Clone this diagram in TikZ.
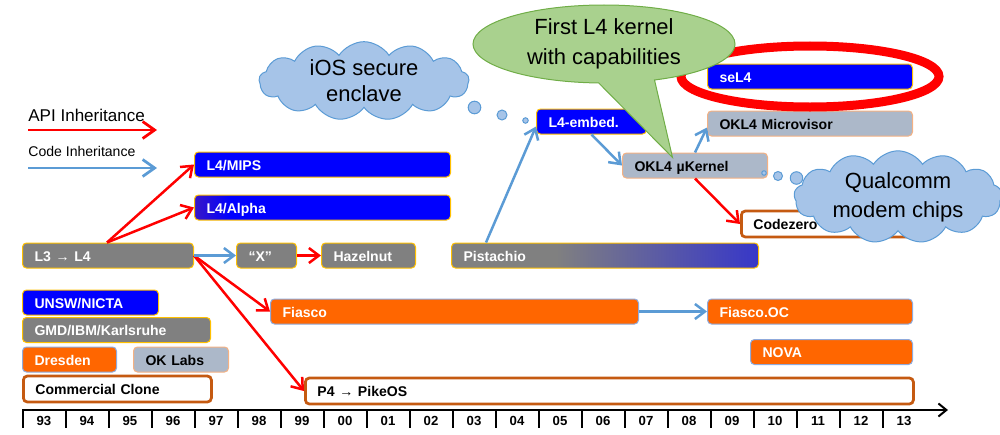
\documentclass[tikz,border=0pt]{standalone}
\usepackage{fontspec}
\setmainfont{Liberation Sans}
\usetikzlibrary{shapes.geometric,shapes.symbols,shapes.callouts,arrows.meta}

\definecolor{kblue}{RGB}{0,0,255}
\definecolor{kgray}{RGB}{128,128,128}
\definecolor{korange}{RGB}{255,102,0}
\definecolor{kslate}{RGB}{172,184,201}
\definecolor{kbrown}{RGB}{197,90,17}
\definecolor{kgold}{RGB}{255,192,0}
\definecolor{kedgeblue}{RGB}{143,170,220}
\definecolor{kedgeorange}{RGB}{244,177,131}
\definecolor{kred}{RGB}{255,0,0}
\definecolor{kcode}{RGB}{91,155,213}
\definecolor{kcloud}{RGB}{166,196,232}
\definecolor{kgreen}{RGB}{169,209,142}
\definecolor{kgreenline}{RGB}{112,173,71}

\pgfdeclarehorizontalshading{alphafade}{100bp}{color(0bp)=(korange); color(32bp)=(kblue); color(100bp)=(kblue)}
\pgfdeclarehorizontalshading{pistfade}{100bp}{color(0bp)=(kgray); color(42bp)=(kgray); color(100bp)=(kblue)}

\tikzset{
  bar/.style={rectangle, rounded corners=0.8mm, minimum height=5mm, inner xsep=2.4mm,
    inner ysep=0pt, anchor=west, text height=1.5ex, text depth=0.3ex,
    font=\fontsize{8}{9}\selectfont\bfseries, text=white, line width=0.2mm},
  barwidth/.style={minimum width=#1*0.2mm, text width=#1*0.2mm-4.8mm},
  bluebar/.style={bar, fill=kblue, draw=kgold},
  graybar/.style={bar, fill=kgray, draw=kgold},
  shadebar/.style={bar, shade, draw=kgold},
  orangebar/.style={bar, fill=korange, draw=kedgeblue},
  slatebar/.style={bar, fill=kslate, draw=kedgeorange, text=black},
  clonebar/.style={bar, fill=white, draw=kbrown, line width=0.55mm, text=black, minimum height=5.2mm},
  api/.style={draw=kred, line width=0.5mm, -{Straight Barb[length=2mm,width=3mm]}},
  code/.style={draw=kcode, line width=0.5mm, -{Straight Barb[length=2mm,width=3mm]}},
  thought/.style={cloud, cloud puffs=13, cloud puff arc=115, aspect=2.7, draw=kcode,
    fill=kcloud, line width=0.2mm, inner sep=0pt, align=center},
  bubble/.style={fill=kcloud, draw=kcode, line width=0.2mm},
  yearlbl/.style={font=\fontsize{7.5}{9}\selectfont\bfseries, inner sep=0pt},
}

\begin{document}
\begin{tikzpicture}[x=0.2mm, y=-0.2mm]
\useasboundingbox (0,0) rectangle (1000,435);

% Lineages
\node[bluebar, barwidth=256] (mips) at (194,164.5) {L4/MIPS};
\node[shadebar, shading=alphafade, barwidth=256] (alpha) at (194,207.5) {L4/Alpha};
\node[graybar, barwidth=171] (l3) at (22,255.5) {L3 → L4};
\node[graybar, barwidth=60] (quoteX) at (236,255.5) {“X”};
\node[graybar, barwidth=94] (hazel) at (321,255.5) {Hazelnut};
\node[shadebar, shading=pistfade, barwidth=307] (pist) at (451,255.5) {Pistachio};
\node[bluebar, barwidth=110] (embed) at (536,121.5) {L4-embed.};
\node[slatebar, barwidth=145] (kern) at (622,165.5) {OKL4 µKernel};
\node[bluebar, barwidth=205] (sel4) at (707,76.5) {seL4};
\node[slatebar, barwidth=205] (micro) at (707,123.5) {OKL4 Microvisor};
\node[clonebar, barwidth=172] (codezero) at (740,224) {Codezero};
\node[orangebar, barwidth=368] (fiasco) at (270,311.5) {Fiasco};
\node[orangebar, barwidth=205] (fiascooc) at (707,311.5) {Fiasco.OC};
\node[orangebar, barwidth=162] (nova) at (750,352) {NOVA};
\node[clonebar, barwidth=608] (pike) at (304,391) {P4 → PikeOS};

% Origins key
\node[bluebar, barwidth=136] (unsw) at (22,302.5) {UNSW/NICTA};
\node[graybar, barwidth=188] (gmd) at (22,330) {GMD/IBM/Karlsruhe};
\node[orangebar, barwidth=94] (dresden) at (22,359.5) {Dresden};
\node[slatebar, barwidth=95] (oklabs) at (133,359.5) {OK Labs};
\node[clonebar, barwidth=188] (clone) at (22,389) {Commercial Clone};

% Inheritance
\coordinate (fork) at ([xshift=17mm]l3.north west);
\draw[api] (fork) -- (mips.west);
\draw[api] (fork) -- (alpha.west);
\draw[api] (l3.east) -- (fiasco.west);
\draw[api] (l3.east) -- (pike.west);
\draw[code] (l3.east) -- (quoteX.west);
\draw[api] (quoteX.east) -- (hazel.west);
\draw[code] ([xshift=7mm]pist.north west) -- ([yshift=-1mm]embed.west);
\draw[code] (embed.south) -- (kern.west);
\draw[code] (kern.north) -- ([yshift=-0.8mm]micro.west);
\draw[api] (kern.south) -- (codezero.west);
\draw[code] (fiasco.east) -- (fiascooc.west);

% seL4 ring
\node[ellipse, draw=kred, line width=1.8mm, minimum width=51.6mm, minimum height=12.2mm,
  inner sep=0pt] (ring) at (sel4) {};

% Capabilities callout
\node[ellipse callout, fill=kgreen, draw=kgreenline, line width=0.2mm,
  minimum width=52.4mm, minimum height=15.6mm, inner sep=0pt, align=center,
  callout pointer arc=25,
  callout absolute pointer={([xshift=-4.5mm,yshift=-1mm]kern.north)},
  font=\fontsize{12.5}{17}\selectfont] (firstcap) at (604,44) {First L4 kernel\\with capabilities};

% Clouds
\node[thought, minimum width=42mm, minimum height=15.6mm,
  font=\fontsize{12.5}{14.7}\selectfont] (ios) at (364,81) {iOS secure\\enclave};
\filldraw[bubble] (474.5,107.5) circle (1.26mm) (502,115) circle (1mm) (525.5,120.5) circle (0.55mm);
\node[thought, minimum width=41.6mm, minimum height=14.4mm,
  font=\fontsize{12.5}{16.4}\selectfont] (qcom) at (898,197) {Qualcomm\\modem chips};
\filldraw[bubble] (764,173) circle (0.45mm) (778,176) circle (0.9mm) (796.5,178) circle (1.25mm);

% Legend
\node[anchor=west, inner sep=0pt, font=\fontsize{9.7}{12}\selectfont] (apitxt) at (28,115) {API Inheritance};
\coordinate (api0) at (28,130);
\coordinate (api1) at (157,130);
\draw[api, line width=0.55mm, -{Straight Barb[length=2.4mm,width=3.4mm]}] (api0) -- (api1);
\node[anchor=west, inner sep=0pt, font=\fontsize{8}{10}\selectfont] (codetxt) at (28,151) {Code Inheritance};
\coordinate (code0) at (28,168);
\coordinate (code1) at (157,168);
\draw[code, line width=0.55mm, -{Straight Barb[length=2.4mm,width=3.4mm]}] (code0) -- (code1);

% Timeline
\coordinate (ax0) at (22,410);
\coordinate (ax1) at (948,410);
\draw[line width=0.4mm, -{Straight Barb[length=1.6mm,width=2.6mm]}] (ax0) -- (ax1);
\foreach \yr [count=\i from 0] in {93,94,95,96,97,98,99,00,01,02,03,04,05,06,07,08,09,10,11,12,13} {
  \draw[line width=0.3mm] (23+43*\i,410) -- ++(0,18);
  \node[yearlbl] (y\yr) at (44+43*\i,421) {\yr};
}

\end{tikzpicture}
\end{document}
